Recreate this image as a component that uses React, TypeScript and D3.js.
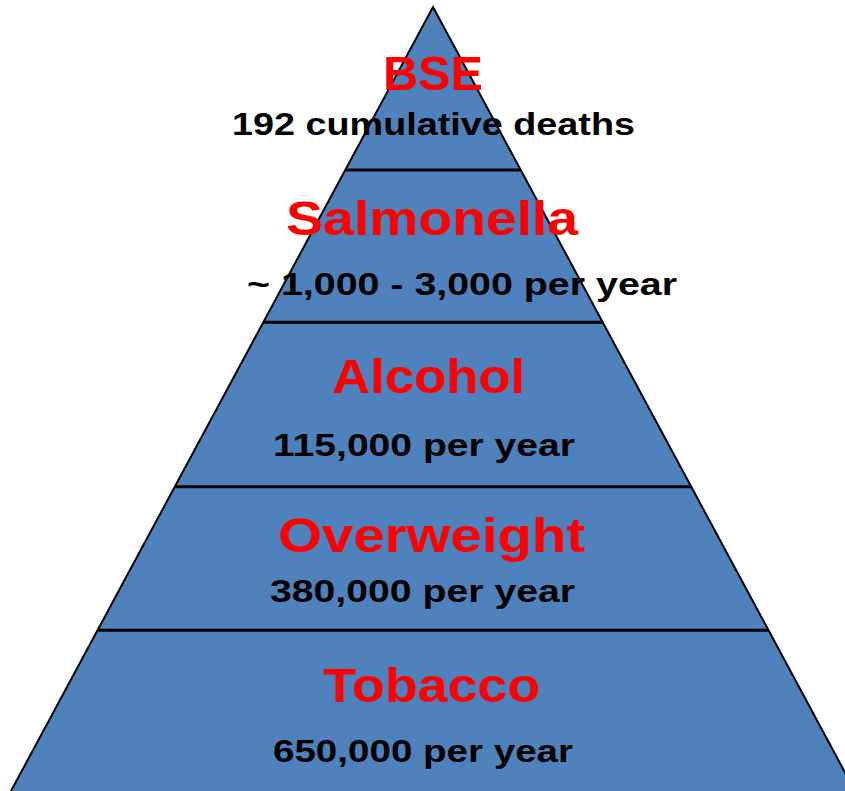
import { FC, useMemo } from "react";
import * as d3 from "d3";

const WIDTH = 845;
const HEIGHT = 791;

// tiers from the top of the pyramid down
const tierNames = ["BSE", "Salmonella", "Alcohol", "Overweight", "Tobacco"];
const tierDeaths = [
  "192 cumulative deaths",
  "~ 1,000 - 3,000 per year",
  "115,000 per year",
  "380,000 per year",
  "650,000 per year",
];

// layout: where each tier ends, as a share of pyramid height (0 = apex, 1 = base)
const TIER_BREAKS = [0, 0.208, 0.402, 0.612, 0.795, 1];
// layout: text baselines, centres and widths measured off the slide
const NAME_LAYOUT = [
  { y: 90, cx: 433, w: 100 },
  { y: 235, cx: 432, w: 292 },
  { y: 393, cx: 428.5, w: 193 },
  { y: 552, cx: 431.5, w: 307 },
  { y: 702, cx: 431.5, w: 217 },
];
const DEATH_LAYOUT = [
  { y: 135, cx: 433.5, w: 403 },
  { y: 295, cx: 462, w: 430 },
  { y: 456, cx: 424, w: 302 },
  { y: 602, cx: 422.5, w: 305 },
  { y: 762, cx: 423, w: 300 },
];

const APEX = { x: 433, y: 7 };
const BASE_Y = 791;
const BASE_HALF = 422;

const App: FC = () => {
  const yScale = useMemo(
    () => d3.scaleLinear().domain([0, 1]).range([APEX.y, BASE_Y]),
    []
  );
  // half width of the pyramid at a given share of its height
  const halfWidth = useMemo(
    () => d3.scaleLinear().domain([0, 1]).range([0, BASE_HALF]),
    []
  );

  // the slide crops the base, so run the outline a little past the bottom edge
  const bottom = 1.01;
  const outline = d3.line()([
    [APEX.x, yScale(0)],
    [APEX.x + halfWidth(bottom), yScale(bottom)],
    [APEX.x - halfWidth(bottom), yScale(bottom)],
  ]) + "Z";

  const dividers = TIER_BREAKS.slice(1, -1).map((t, i) => (
    <line
      key={i}
      x1={APEX.x - halfWidth(t)}
      x2={APEX.x + halfWidth(t)}
      y1={yScale(t)}
      y2={yScale(t)}
      stroke="#000000"
      strokeWidth={3}
    />
  ));

  const labels = tierNames.map((name, i) => (
    <g key={i}>
      <text
        x={NAME_LAYOUT[i].cx}
        y={NAME_LAYOUT[i].y}
        textAnchor="middle"
        fontFamily="'Liberation Sans', Arial, sans-serif"
        fontWeight="bold"
        fontSize={48}
        fill="#ff0000"
        textLength={NAME_LAYOUT[i].w}
        lengthAdjust="spacingAndGlyphs"
      >
        {name}
      </text>
      <text
        x={DEATH_LAYOUT[i].cx}
        y={DEATH_LAYOUT[i].y}
        textAnchor="middle"
        fontFamily="'Liberation Sans', Arial, sans-serif"
        fontWeight="bold"
        fontSize={31}
        fill="#000000"
        textLength={DEATH_LAYOUT[i].w}
        lengthAdjust="spacingAndGlyphs"
      >
        {tierDeaths[i]}
      </text>
    </g>
  ));

  return (
    <svg
      width={WIDTH}
      height={HEIGHT}
      style={{ position: "absolute", left: 0, top: 0, display: "block", background: "#ffffff" }}
    >
      <path d={outline} fill="#4f81bd" stroke="#000000" strokeWidth={2} strokeLinejoin="miter" />
      {dividers}
      {labels}
    </svg>
  );
};

export default App;
